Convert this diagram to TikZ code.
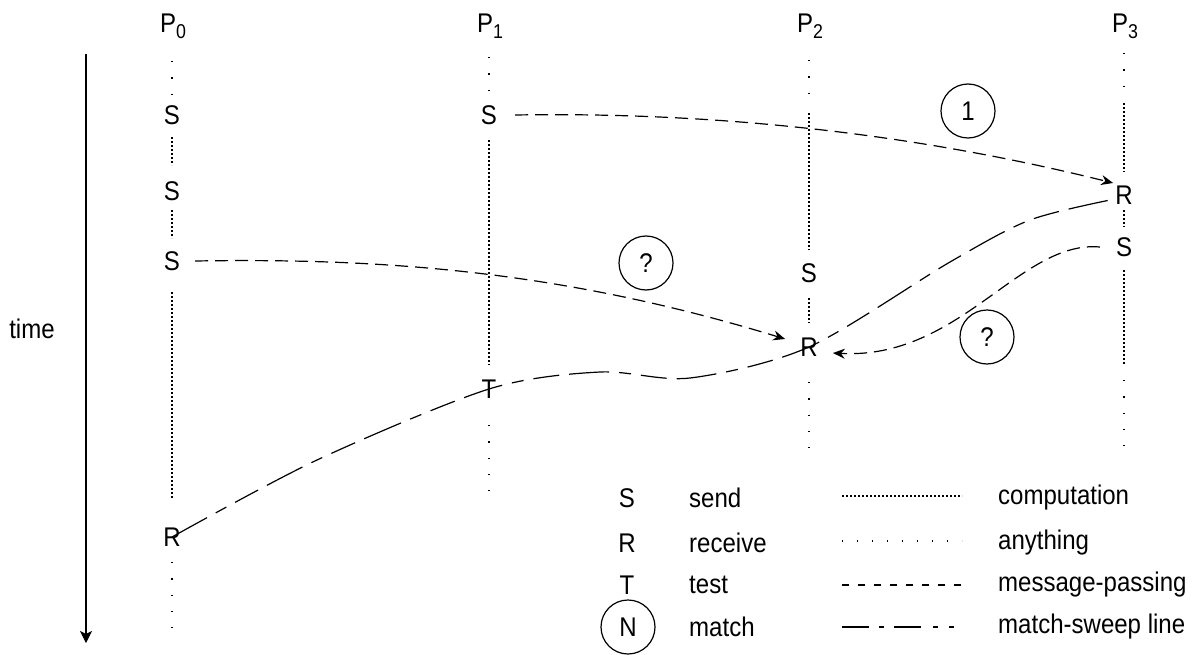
\documentclass[tikz,border=0pt]{standalone}
\usepackage{fontspec}
\setmainfont{Liberation Sans}
\newfontfamily\diagfont{Liberation Sans}[FakeStretch=0.89]
\usetikzlibrary{arrows.meta}
\begin{document}
\begin{tikzpicture}[x=1pt,y=-1pt,
  txt/.style={font=\diagfont\fontsize{27}{30}\selectfont, inner sep=0pt},
  comp/.style={line width=1.3pt, dash pattern=on 2pt off 2pt},
  anyth/.style={line width=1.3pt, dash pattern=on 1.3pt off 15pt},
  msg/.style={line width=1.2pt, dash pattern=on 13pt off 7pt,
              -{Stealth[length=12pt,width=10pt,inset=4pt]}},
  sweep/.style={line width=1.2pt, dash pattern=on 40pt off 10pt on 12pt off 10pt on 26pt off 10pt},
  matchc/.style={txt, draw, circle, line width=1.2pt, minimum size=54pt}
]
\useasboundingbox (0,0) rectangle (1199,655);

% column headers
\node[txt, anchor=base west] (P0) at (160,33) {P\raisebox{-6pt}{\fontsize{20}{22}\selectfont 0}};
\node[txt, anchor=base west] (P1) at (477,33) {P\raisebox{-6pt}{\fontsize{20}{22}\selectfont 1}};
\node[txt, anchor=base west] (P2) at (797,33) {P\raisebox{-6pt}{\fontsize{20}{22}\selectfont 2}};
\node[txt, anchor=base west] (P3) at (1112,33) {P\raisebox{-6pt}{\fontsize{20}{22}\selectfont 3}};

% time axis
\coordinate (tTop) at (86,54);
\coordinate (tBot) at (86,643);
\draw[line width=1.3pt, -{Stealth[length=12pt,width=12pt,inset=3pt]}] (tTop) -- (tBot);
\node[txt] (time) at (32,329) {time};

% process life lines
\foreach \x/\a/\b/\s [count=\i] in {
  172/61/95/anyth, 172/137/165/comp, 172/210/238/comp, 172/292/498/comp, 172/562/628/anyth,
  489/57/91/anyth, 489/140/365/comp, 489/425/491/anyth,
  809/60/94/anyth, 809/113/250/comp, 809/298/323/comp, 809/382/448/anyth,
  1124/53/88/anyth, 1124/103/172/comp, 1124/210/227/comp, 1124/270/365/comp, 1124/380/446/anyth}
{
  \coordinate (ls\i) at (\x,\a);
  \coordinate (le\i) at (\x,\b);
  \draw[\s] (ls\i) -- (le\i);
}

% events
\node[txt] (S0a) at (172,115) {S};
\node[txt] (S0b) at (172,191) {S};
\node[txt] (S0c) at (172,261) {S};
\node[txt] (R0)  at (172,537) {R};
\node[txt] (S1)  at (489,115) {S};
\node[txt] (T1)  at (489,389) {T};
\node[txt] (S2)  at (809,273) {S};
\node[txt] (R2)  at (809,347) {R};
\node[txt] (R3)  at (1124,195) {R};
\node[txt] (S3)  at (1124,247) {S};

% match circles
\node[matchc] (m1) at (968,111) {1};
\node[matchc] (m2) at (646,263) {?};
\node[matchc] (m3) at (987,337) {?};

% messages
\draw[msg] ([xshift=18pt]S1.east) .. controls (700,112) and (900,130) .. ([xshift=-2pt,yshift=12pt]R3.west);
\draw[msg] ([xshift=15pt]S0c.east) .. controls (380,258) and (560,270) .. ([xshift=-15pt,yshift=8pt]R2.west);
\draw[msg] ([xshift=-16pt]S3.west) .. controls (1020,240) and (960,360) .. ([xshift=15pt,yshift=-6pt]R2.east);

% match-sweep line
\coordinate (w1) at (317,460);
\coordinate (w2) at (600,372);
\coordinate (w3) at (690,378);
\coordinate (w4) at (950,262);
\coordinate (w5) at (1030,220);
\coordinate (R3in) at ([yshift=-4pt]R3.west);
\draw[sweep] plot[smooth, tension=0.5] coordinates {(R0.center) (w1) (T1.center) (w2) (w3) (R2.center) (w4) (w5) (R3in)};

% legend
\node[txt] (LS) at (627,498) {S};
\node[txt] (LR) at (627,543) {R};
\node[txt] (LT) at (627,585) {T};
\node[matchc] (LN) at (628,627) {N};
\node[txt, anchor=west] (Lsend) at (689,498) {send};
\node[txt, anchor=west] (Lrecv) at (689,543) {receive};
\node[txt, anchor=west] (Ltest) at (689,585) {test};
\node[txt, anchor=west] (Lmatch) at (689,627) {match};
\node[txt, anchor=west] (Lcomp) at (998,498) {computation};
\node[txt, anchor=west] (Lany) at (998,543) {anything};
\node[txt, anchor=west] (Lmsg) at (998,585) {message-passing};
\node[txt, anchor=west] (Lsw) at (998,627) {match-sweep line};

\coordinate (a1) at (842,496); \coordinate (b1) at (962,496);
\coordinate (a2) at (842,541); \coordinate (b2) at (962,541);
\coordinate (a3) at (842,585); \coordinate (b3) at (962,585);
\coordinate (a4) at (842,627); \coordinate (b4) at (962,627);
\draw[comp] (a1) -- (b1);
\draw[line width=1.3pt, dash pattern=on 1.3pt off 13.7pt] (a2) -- (b2);
\draw[line width=1.2pt, dash pattern=on 7pt off 9pt] (a3) -- (b3);
\draw[line width=1.2pt, dash pattern=on 27pt off 10pt on 5pt off 10pt on 27pt off 12pt on 5pt off 11pt on 5pt off 30pt] (a4) -- (b4);
\end{tikzpicture}
\end{document}
